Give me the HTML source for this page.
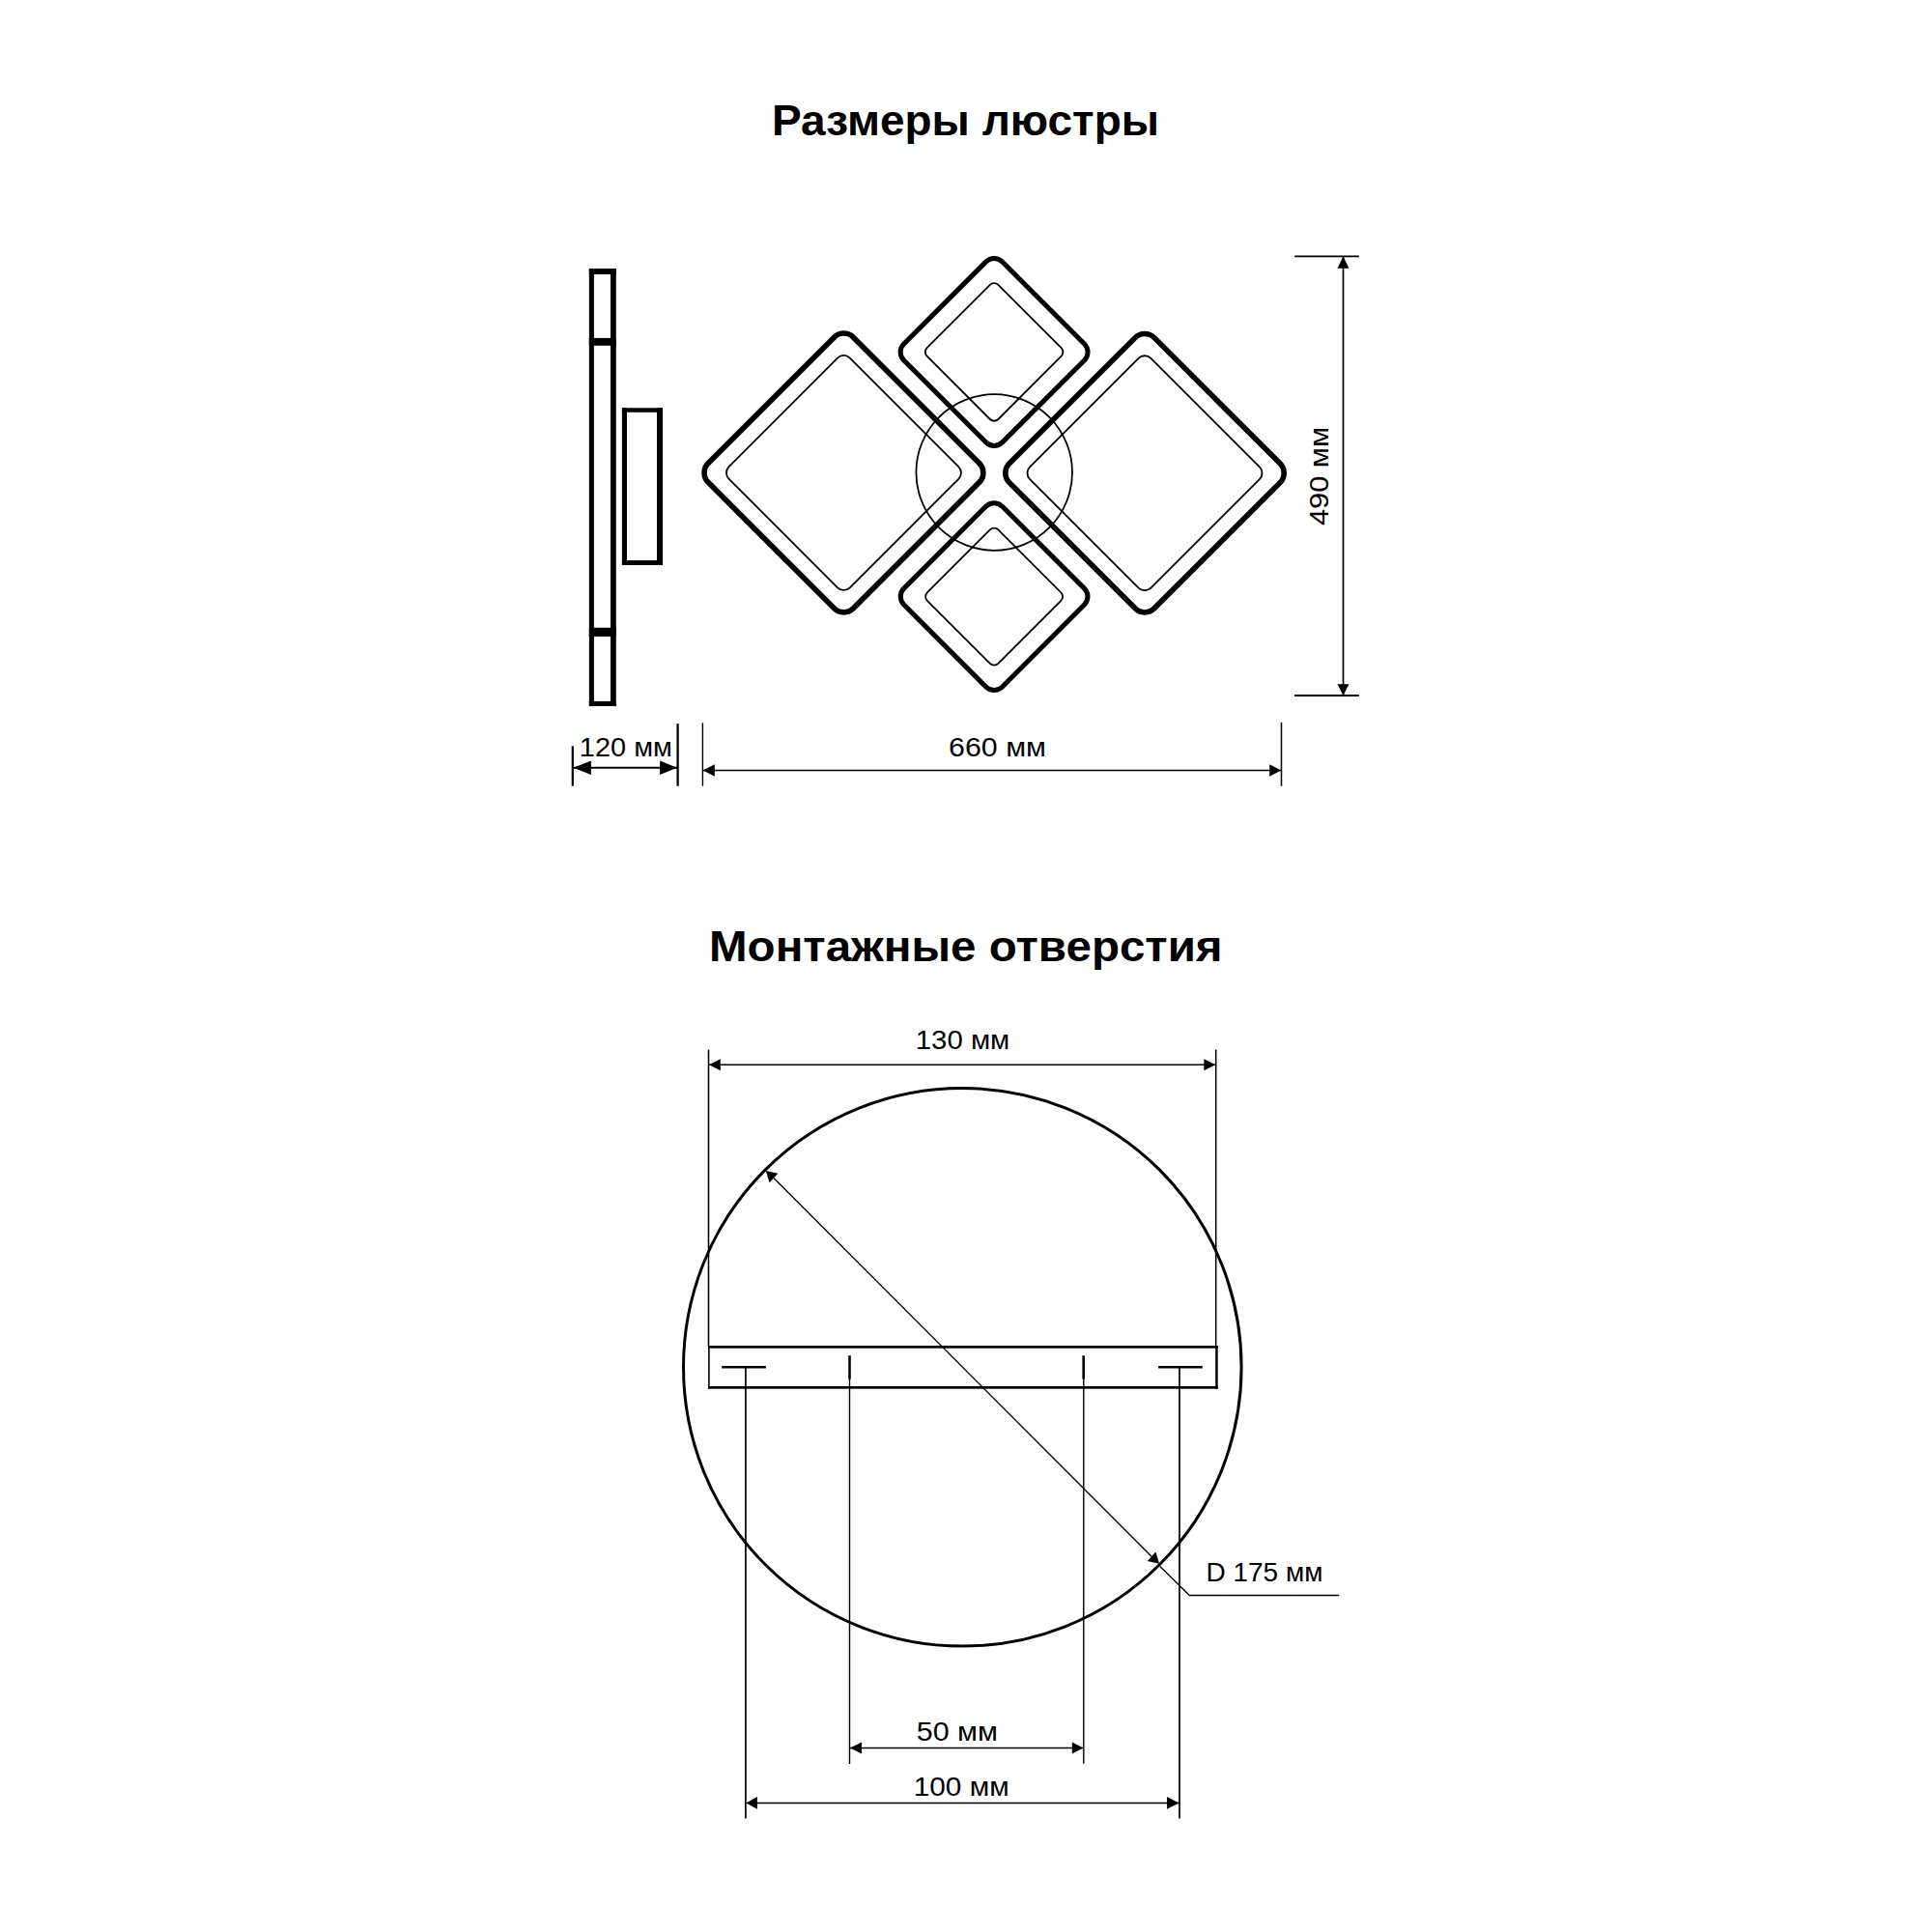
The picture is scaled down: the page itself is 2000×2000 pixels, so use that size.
<!DOCTYPE html>
<html><head><meta charset="utf-8"><style>
html,body{margin:0;padding:0;background:#fff;}
svg{display:block;}
text{font-family:"Liberation Sans",sans-serif;fill:#000;stroke:none;}
</style></head><body>
<svg width="2000" height="2000" viewBox="0 0 2000 2000" stroke="#000" fill="none">
<rect x="0" y="0" width="2000" height="2000" fill="#fff" stroke="none"/>
<text x="999.5" y="139.6" font-size="45" text-anchor="middle" font-weight="bold" textLength="401" lengthAdjust="spacingAndGlyphs" >Размеры люстры</text>
<text x="999.8" y="995" font-size="44" text-anchor="middle" font-weight="bold" textLength="531.6" lengthAdjust="spacingAndGlyphs" >Монтажные отверстия</text>
<rect x="609.84" y="278" width="5.06" height="453" stroke="none" fill="#000"/>
<rect x="632.06" y="278" width="5.72" height="453" stroke="none" fill="#000"/>
<rect x="609.84" y="278" width="27.94" height="6" stroke="none" fill="#000"/>
<rect x="609.84" y="725.9" width="27.94" height="5.1" stroke="none" fill="#000"/>
<rect x="609.84" y="349.9" width="27.94" height="7.9" stroke="none" fill="#000"/>
<rect x="609.84" y="649.8" width="27.94" height="9.1" stroke="none" fill="#000"/>
<rect x="643.9" y="422.3" width="5.1" height="162.7" stroke="none" fill="#000"/>
<rect x="680" y="422.3" width="6" height="162.7" stroke="none" fill="#000"/>
<rect x="643.9" y="422.3" width="42.1" height="4.5" stroke="none" fill="#000"/>
<rect x="643.9" y="580.1" width="42.1" height="4.9" stroke="none" fill="#000"/>
<rect x="767.24" y="383.24" width="212.41" height="212.41" rx="14" transform="rotate(45 873.45 489.45)" stroke-width="5.6" fill="none"/>
<rect x="1078.93" y="383.68" width="212.13" height="212.13" rx="14" transform="rotate(45 1185.0 489.75)" stroke-width="5.6" fill="none"/>
<rect x="957.03" y="292.38" width="144.14" height="144.14" rx="12" transform="rotate(45 1029.1 364.45)" stroke-width="5.0" fill="none"/>
<rect x="957.07" y="545.57" width="144.07" height="144.07" rx="12" transform="rotate(45 1029.1 617.6)" stroke-width="5.0" fill="none"/>
<rect x="784.90" y="400.90" width="177.10" height="177.10" rx="9" transform="rotate(45 873.45 489.45)" stroke-width="1.8" fill="none"/>
<rect x="1096.45" y="401.20" width="177.10" height="177.10" rx="9" transform="rotate(45 1185.0 489.75)" stroke-width="1.8" fill="none"/>
<rect x="976.93" y="312.28" width="104.35" height="104.35" rx="6" transform="rotate(45 1029.1 364.45)" stroke-width="1.8" fill="none"/>
<rect x="977.14" y="565.64" width="103.92" height="103.92" rx="6" transform="rotate(45 1029.1 617.6)" stroke-width="1.8" fill="none"/>
<circle cx="1029.2" cy="489" r="80.8" stroke-width="1.8" fill="none"/>
<line x1="1390.5" y1="265.4" x2="1390.5" y2="720" stroke-width="1.7"/>
<line x1="1340.2" y1="265.4" x2="1406.9" y2="265.4" stroke-width="1.9"/>
<line x1="1340.2" y1="720" x2="1406.9" y2="720" stroke-width="1.9"/>
<polygon points="1390.50,265.40 1396.50,277.70 1384.50,277.70" stroke="none" fill="#000"/>
<polygon points="1390.50,720.00 1384.50,708.20 1396.50,708.20" stroke="none" fill="#000"/>
<text x="0" y="0" font-size="28.5" text-anchor="middle" textLength="102.2" lengthAdjust="spacingAndGlyphs" transform="translate(1375 493) rotate(-90)">490 мм</text>
<line x1="592.8" y1="772.3" x2="592.8" y2="813.7" stroke-width="2.2"/>
<line x1="701.6" y1="749.1" x2="701.6" y2="813.7" stroke-width="2.3"/>
<line x1="592.8" y1="794.7" x2="701.6" y2="794.7" stroke-width="2.0"/>
<polygon points="593.50,794.70 611.90,787.45 611.90,801.95" stroke="none" fill="#000"/>
<polygon points="701.00,794.70 683.10,801.95 683.10,787.45" stroke="none" fill="#000"/>
<text x="647.9" y="782.6" font-size="28.5" text-anchor="middle" font-weight="normal" textLength="96.1" lengthAdjust="spacingAndGlyphs" >120 мм</text>
<line x1="727.4" y1="748.3" x2="727.4" y2="813.7" stroke-width="1.4"/>
<line x1="1326.5" y1="747.8" x2="1326.5" y2="813.8" stroke-width="1.5"/>
<line x1="727.4" y1="797.5" x2="1326.5" y2="797.5" stroke-width="1.6"/>
<polygon points="727.80,797.50 739.80,791.15 739.80,803.85" stroke="none" fill="#000"/>
<polygon points="1326.20,797.50 1314.20,803.85 1314.20,791.15" stroke="none" fill="#000"/>
<text x="1032.5" y="782.8" font-size="28.5" text-anchor="middle" font-weight="normal" textLength="101.0" lengthAdjust="spacingAndGlyphs" >660 мм</text>
<line x1="733.5" y1="1086.4" x2="733.5" y2="1394" stroke-width="1.55"/>
<line x1="1258.7" y1="1086.5" x2="1258.7" y2="1394" stroke-width="1.55"/>
<line x1="733.5" y1="1102.3" x2="1258.7" y2="1102.3" stroke-width="1.55"/>
<polygon points="734.00,1102.30 745.80,1096.30 745.80,1108.30" stroke="none" fill="#000"/>
<polygon points="1258.20,1102.30 1246.40,1108.30 1246.40,1096.30" stroke="none" fill="#000"/>
<text x="996.5" y="1085.8" font-size="28.5" text-anchor="middle" font-weight="normal" textLength="97.5" lengthAdjust="spacingAndGlyphs" >130 мм</text>
<circle cx="996.3" cy="1415.3" r="288.8" stroke-width="3" fill="none"/>
<rect x="733.1" y="1393.1" width="527.6" height="2.6" stroke="none" fill="#000"/>
<rect x="733.1" y="1435.0" width="527.6" height="2.7" stroke="none" fill="#000"/>
<rect x="733.1" y="1393.1" width="1.6" height="44.6" stroke="none" fill="#000"/>
<rect x="1258.2" y="1393.1" width="2.5" height="44.6" stroke="none" fill="#000"/>
<line x1="747.2" y1="1415.3" x2="792.9" y2="1415.3" stroke-width="2.5"/>
<line x1="1199.1" y1="1415.3" x2="1244.8" y2="1415.3" stroke-width="2.5"/>
<line x1="771.9" y1="1415.3" x2="771.9" y2="1882.6" stroke-width="1.7"/>
<line x1="1221" y1="1415.3" x2="1221" y2="1882.4" stroke-width="1.7"/>
<line x1="879.5" y1="1403.2" x2="879.5" y2="1427.6" stroke-width="2.6"/>
<line x1="1121.7" y1="1403.2" x2="1121.7" y2="1427.6" stroke-width="2.6"/>
<line x1="879.5" y1="1427" x2="879.5" y2="1825.9" stroke-width="1.4"/>
<line x1="1121.8" y1="1427" x2="1121.8" y2="1825.7" stroke-width="1.4"/>
<line x1="879.5" y1="1809.4" x2="1121.8" y2="1809.4" stroke-width="1.45"/>
<polygon points="880.00,1809.40 892.00,1803.40 892.00,1815.40" stroke="none" fill="#000"/>
<polygon points="1121.30,1809.40 1109.80,1815.40 1109.80,1803.40" stroke="none" fill="#000"/>
<text x="990.9" y="1801.6" font-size="28.5" text-anchor="middle" font-weight="normal" textLength="84.2" lengthAdjust="spacingAndGlyphs" >50 мм</text>
<line x1="771.9" y1="1866.4" x2="1221" y2="1866.4" stroke-width="1.45"/>
<polygon points="772.40,1866.40 783.90,1860.00 783.90,1872.80" stroke="none" fill="#000"/>
<polygon points="1220.50,1866.40 1208.00,1872.80 1208.00,1860.00" stroke="none" fill="#000"/>
<text x="995.2" y="1859" font-size="28.5" text-anchor="middle" font-weight="normal" textLength="99.0" lengthAdjust="spacingAndGlyphs" >100 мм</text>
<line x1="800.95" y1="1219.5" x2="1192.05" y2="1611.2" stroke-width="1.35"/>
<polygon points="792.80,1211.90 805.31,1214.82 796.59,1224.18" stroke="none" fill="#000"/>
<polygon points="1200.10,1618.70 1187.69,1615.88 1196.41,1606.52" stroke="none" fill="#000"/>
<polyline points="1200.8,1621.5 1231.3,1651.5 1386.2,1651.5" stroke-width="1.3" fill="none"/>
<text x="1248.4" y="1636.9" font-size="28.5" text-anchor="start" font-weight="normal" textLength="121.1" lengthAdjust="spacingAndGlyphs" >D 175 мм</text>
</svg></body></html>
